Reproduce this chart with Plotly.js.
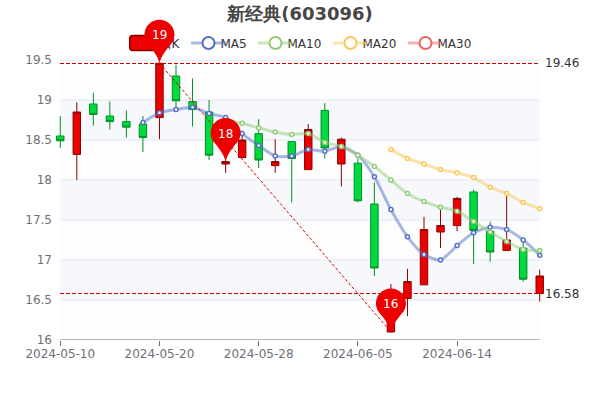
<!DOCTYPE html>
<html><head><meta charset="utf-8">
<script src="https://cdn.plot.ly/plotly-3.0.1.min.js"></script>
<style>html,body{margin:0;padding:0;background:#fff}#c{width:600px;height:400px}</style>
</head><body><div id="c"></div>
<script>
const dates=["2024-05-10","2024-05-13","2024-05-14","2024-05-15","2024-05-16","2024-05-17","2024-05-20","2024-05-21","2024-05-22","2024-05-23","2024-05-24","2024-05-27","2024-05-28","2024-05-29","2024-05-30","2024-05-31","2024-06-03","2024-06-04","2024-06-05","2024-06-06","2024-06-07","2024-06-11","2024-06-12","2024-06-13","2024-06-14","2024-06-17","2024-06-18","2024-06-19","2024-06-20","2024-06-21"];
const open =[18.55,18.32,18.95,18.80,18.73,18.70,18.78,19.30,18.98,18.85,18.20,18.28,18.58,18.18,18.48,18.13,18.87,18.20,18.21,17.70,16.10,16.52,16.69,17.35,17.43,17.85,17.36,17.12,17.15,16.58];
const close=[18.49,18.85,18.82,18.73,18.66,18.53,19.46,18.99,18.88,18.31,18.23,18.50,18.25,18.23,18.27,18.63,18.40,18.51,17.74,16.90,16.58,16.73,17.38,17.43,17.77,17.37,17.10,17.25,16.76,16.80];
const high =[18.80,18.97,19.09,18.98,18.87,18.80,19.46,19.44,19.27,19.00,18.30,18.60,18.76,18.51,18.48,18.70,18.96,18.53,18.27,17.97,16.70,16.89,17.54,17.63,17.79,17.88,17.48,17.80,17.23,16.88];
const low  =[18.40,18.00,18.68,18.63,18.53,18.35,18.51,18.90,18.67,18.25,18.09,18.28,18.15,18.09,17.72,18.13,18.27,17.92,17.72,16.80,16.10,16.30,16.69,17.15,17.36,16.95,16.98,17.12,16.73,16.48];
const ma5 =[null,null,null,null,null,18.72,18.84,18.88,18.91,18.83,18.78,18.58,18.43,18.30,18.30,18.38,18.36,18.42,18.31,18.04,17.63,17.29,17.07,17.00,17.18,17.34,17.41,17.38,17.25,17.06];
const ma10=[null,null,null,null,null,null,null,null,null,null,18.74,18.71,18.65,18.60,18.57,18.58,18.47,18.42,18.31,18.17,18.00,17.83,17.73,17.66,17.61,17.48,17.35,17.23,17.13,17.12];
const ma20=[null,null,null,null,null,null,null,null,null,null,null,null,null,null,null,null,null,null,null,null,18.38,18.27,18.20,18.13,18.09,18.03,17.91,17.83,17.72,17.64];
const ma30=dates.map(()=>null);
const maNames=["MA5","MA10","MA20","MA30"];
const maColors=["#5470c6","#91cc75","#fac858","#ee6666"];
const maLines=["rgba(84,112,198,0.5)","rgba(145,204,117,0.5)","rgba(250,200,88,0.5)","rgba(238,102,102,0.5)"];
const yTicks=[16,16.5,17,17.5,18,18.5,19,19.5];
const yTickText=["16","16.5","17","17.5","18","18.5","19","19.5"];
const xTicks=["2024-05-10","2024-05-20","2024-05-28","2024-06-05","2024-06-14"];
const refLines=[19.46,16.58];
const pinIdx=[6,10,20];
const pinVal=[19.46,18.23,16.10];
const pinText=["19","18","16"];
const trendIdx=[6,20];
const trendVal=[19.46,16.10];
const bandFill=["#f6f8fc","#fdfdfe"];
const legendX=[130,191,258,333,408];
const legendY=43;

const first=dates[0], last=dates[dates.length-1];
const traces=[];
traces.push({type:'candlestick',name:'日K',x:dates,open:open,high:high,low:low,close:close,
  increasing:{line:{color:'#8A0000',width:1},fillcolor:'#ec0000'},
  decreasing:{line:{color:'#008F28',width:1},fillcolor:'#00da3c'},
  whiskerwidth:0,hoverinfo:'skip'});
[ma5,ma10,ma20,ma30].forEach((m,i)=>{
  traces.push({type:'scatter',mode:'lines+markers',name:maNames[i],x:dates,y:m,cliponaxis:false,
    line:{color:maLines[i],width:3,shape:'spline',smoothing:0.7},
    marker:{size:4,color:'#fff',line:{color:maColors[i],width:1.5}},hoverinfo:'skip'});
});
refLines.forEach(v=>{
  traces.push({type:'scatter',mode:'lines',x:[first,last],y:[v,v],showlegend:false,hoverinfo:'skip',
    line:{color:'#c80000',width:1,dash:'4px,2px'}});
});
traces.push({type:'scatter',mode:'lines',x:trendIdx.map(i=>dates[i]),y:trendVal,showlegend:false,hoverinfo:'skip',
  line:{color:'#e00000',width:1,dash:'3px,2px'}});

const shapes=[];
for(let i=0;i<yTicks.length-1;i++){
  shapes.push({type:'rect',layer:'below',xref:'x',yref:'y',x0:first,x1:last,y0:yTicks[i],y1:yTicks[i+1],
    line:{width:0},fillcolor:bandFill[(i%2===0)?1:0]});
}
yTicks.forEach(v=>{ if(v>16) shapes.push({type:'line',layer:'below',xref:'x',yref:'y',x0:first,x1:last,y0:v,y1:v,line:{color:'#E0E6F1',width:1}});});
shapes.push({type:'line',layer:'below',xref:'x',yref:'y',x0:first,x1:last,y0:16,y1:16,line:{color:'#6E7079',width:1}});
shapes.push({type:'path',layer:'above',xref:'paper',yref:'paper',xsizemode:'pixel',ysizemode:'pixel',
  xanchor:(129.5-51.72)/496.56,yanchor:(340-50.5)/330,
  path:'M3,0 H25 Q28,0 28,3 V12 Q28,15 25,15 H3 Q0,15 0,12 V3 Q0,0 3,0 Z',
  line:{color:'#8A0000',width:1.5},fillcolor:'#ec0000'});
const pinPath="M0,0 C-1.5,7 -7,14 -12.9,21 C-14.3,23.5 -15,26 -15,28.5 C-15,36.8 -8.3,43.5 0,43.5 C8.3,43.5 15,36.8 15,28.5 C15,26 14.3,23.5 12.9,21 C7,14 1.5,7 0,0 Z";
pinIdx.forEach((k,i)=>{
  shapes.push({type:'path',layer:'above',xref:'x',yref:'y',xsizemode:'pixel',ysizemode:'pixel',
    xanchor:dates[k],yanchor:pinVal[i],path:pinPath,fillcolor:'#ec0000',line:{width:0}});
});
const annotations=[];
pinIdx.forEach((k,i)=>annotations.push({xref:'x',yref:'y',x:dates[k],y:pinVal[i],yshift:28,text:pinText[i],showarrow:false,font:{color:'#fff',size:12},yanchor:'middle',xanchor:'center'}));
refLines.forEach(v=>annotations.push({xref:'x',yref:'y',x:last,y:v,xshift:3,text:String(v),showarrow:false,font:{color:'#333',size:12},xanchor:'left',yanchor:'middle'}));

const layout={width:600,height:400,autosize:false,paper_bgcolor:'#fff',plot_bgcolor:'rgba(0,0,0,0)',
  font:{family:'DejaVu Sans, sans-serif',size:12,color:'#333'},
  margin:{l:51.72,r:51.72,t:10,b:60,pad:0},
  title:{text:'新经典(603096)',font:{size:18,color:'#464646',weight:'bold'},x:0.5,xref:'paper',xanchor:'center',y:0.965,yanchor:'middle',pad:{t:0,b:0,l:0,r:0}},
  boxgap:0.55,boxgroupgap:0,
  showlegend:true,
  legend:{orientation:'h',x:0.155,xanchor:'left',y:0.9,yanchor:'top',bgcolor:'rgba(0,0,0,0)',font:{size:12,color:'#333'},itemsizing:'constant',itemwidth:35,traceorder:'normal',itemclick:false,itemdoubleclick:false},
  xaxis:{type:'category',range:[-0.5,29.5],rangeslider:{visible:false},tickmode:'array',tickvals:xTicks,ticktext:xTicks,
    ticks:'outside',ticklen:5,tickcolor:'#6E7079',tickwidth:1,tickfont:{size:12,color:'#6E7079'},showgrid:false,zeroline:false,showline:false,fixedrange:true,ticklabelstandoff:-2},
  yaxis:{range:[16,20.125],tickmode:'array',tickvals:yTicks,ticktext:yTickText,ticks:'',tickfont:{size:12,color:'#6E7079'},showgrid:false,zeroline:false,showline:false,ticklabelstandoff:-1,fixedrange:true},
  shapes:shapes,annotations:annotations};
Plotly.newPlot('c',traces,layout,{displayModeBar:false}).then(gd=>{
  const sc=gd.querySelectorAll('.scatterlayer .trace');
  [4,5].forEach(i=>{ if(sc[i]) sc[i].querySelectorAll('.js-line').forEach(l=>{l.style.shapeRendering='crispEdges';}); });
  const legend=gd.querySelector('.legend');
  const above=gd.querySelector('.main-svg .layer-above');
  if(!legend||!above) return;
  above.parentNode.insertBefore(legend,above);
  legend.setAttribute('transform','translate(0,'+legendY+')');
  const box=legend.querySelector('.scrollbox');
  if(box) box.removeAttribute('clip-path');
  legend.removeAttribute('clip-path');
  legend.querySelectorAll('.traces').forEach((t,i)=>{
    t.setAttribute('transform','translate('+(legendX[i]-5)+',0)');
    const txt=t.querySelector('.legendtext');
    if(txt) txt.setAttribute('x',34.5);
    t.querySelectorAll('.js-line').forEach(l=>{l.style.strokeWidth='3px';});
    t.querySelectorAll('.legendcandle').forEach(c=>c.style.display='none');
  });
});
</script></body></html>
